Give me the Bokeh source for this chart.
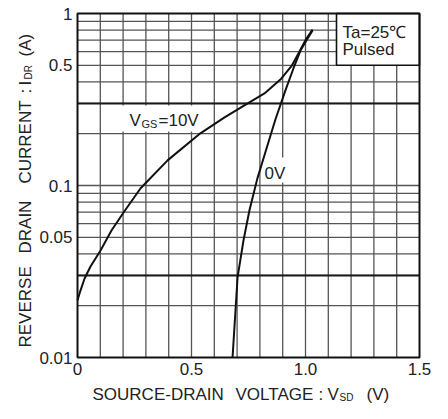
from bokeh.plotting import figure
from bokeh.models import Range1d, FixedTicker, Label, LinearAxis, LogAxis
from bokeh.embed import file_html
from bokeh.resources import INLINE

# ---- data ----
vgs10_vsd = [0.0, 0.013, 0.031, 0.057, 0.101, 0.149, 0.202, 0.276, 0.395, 0.539,
             0.645, 0.732, 0.820, 0.890, 0.940, 0.976, 1.004, 1.031]
vgs10_idr = [0.0215, 0.0245, 0.0288, 0.0338, 0.0419, 0.0547, 0.0697, 0.0961, 0.140, 0.201,
             0.249, 0.292, 0.343, 0.413, 0.497, 0.610, 0.716, 0.807]
vgs0_vsd = [0.680, 0.702, 0.728, 0.754, 0.789, 0.829, 0.868, 0.912, 0.947, 0.978, 1.004, 1.031]
vgs0_idr = [0.010, 0.0292, 0.0479, 0.0716, 0.110, 0.164, 0.242, 0.357, 0.479, 0.609, 0.697, 0.796]

x_lim = [0.0, 1.5]
y_lim = [0.01, 1.0]
x_ticks = [0.0, 0.5, 1.0, 1.5]
x_tick_labels = ["0", "0.5", "1.0", "1.5"]
y_ticks = [0.01, 0.05, 0.1, 0.5, 1.0]
y_tick_labels = ["0.01", "0.05", "0.1", "0.5", "1"]
x_grid = [round(0.1 * k, 1) for k in range(1, 15)]
y_grid = [round(m * 10.0 ** e, 4) for e in (-2, -1) for m in range(2, 10)] + [0.1]
y_grid_bold = [0.03, 0.3]

FONT = "Liberation Sans"
TXT = "#222222"
LINE = "#111111"

# pixel geometry of the data box on the canvas, used to set ranges and place texts
FL, FR, FT, FB = 77, 419, 13, 357
W, H = 432, 403


def px2x(px):
    return x_lim[0] + (px - FL) * (x_lim[1] - x_lim[0]) / (FR - FL)


def px2y(py):
    return 10 ** (-2 + (FB - py) * 2.0 / (FB - FT))


p = figure(width=W, height=H, output_backend="svg", toolbar_location=None,
           y_axis_type="log", x_axis_location=None, y_axis_location=None,
           x_range=Range1d(px2x(0), px2x(W)), y_range=Range1d(px2y(H), px2y(0)),
           min_border=0)
p.background_fill_color = "white"
p.border_fill_color = "white"
p.outline_line_color = None
p.xgrid.visible = False
p.ygrid.visible = False

xaxis = LinearAxis(fixed_location=y_lim[0], bounds=tuple(x_lim),
                   ticker=FixedTicker(ticks=x_ticks))
yaxis = LogAxis(fixed_location=x_lim[0], bounds=tuple(y_lim),
                ticker=FixedTicker(ticks=y_ticks))
xaxis.major_label_overrides = {t: s for t, s in zip(x_ticks, x_tick_labels)}
yaxis.major_label_overrides = {t: s for t, s in zip(y_ticks, y_tick_labels)}
for ax in (xaxis, yaxis):
    ax.axis_line_color = None
    ax.major_tick_line_color = None
    ax.minor_tick_line_color = None
    ax.major_tick_out = 0
    ax.major_tick_in = 0
    ax.minor_tick_out = 0
    ax.major_label_text_font = FONT
    ax.major_label_text_font_size = "17px"
    ax.major_label_text_color = TXT
    ax.major_label_standoff = 5
p.add_layout(xaxis, "below")
p.add_layout(yaxis, "left")

# grid lines inside the data box
p.segment(x0=x_grid, x1=x_grid, y0=[y_lim[0]] * len(x_grid), y1=[y_lim[1]] * len(x_grid),
          line_color="#555555", line_width=1.3)
p.segment(x0=[x_lim[0]] * len(y_grid), x1=[x_lim[1]] * len(y_grid), y0=y_grid, y1=y_grid,
          line_color="#555555", line_width=1.3)
p.segment(x0=[x_lim[0]] * len(y_grid_bold), x1=[x_lim[1]] * len(y_grid_bold),
          y0=y_grid_bold, y1=y_grid_bold, line_color="#1a1a1a", line_width=2)

# white label backgrounds
p.quad(left=[px2x(101), px2x(262), px2x(336)], right=[px2x(210), px2x(290), x_lim[1]],
       bottom=[px2y(131), px2y(182), 0.5], top=[px2y(105), px2y(157), y_lim[1]],
       fill_color="white", line_color=[None, None, LINE], line_width=1.6)

# frame
p.quad(left=[x_lim[0]], right=[x_lim[1]], bottom=[y_lim[0]], top=[y_lim[1]],
       fill_color=None, line_color=LINE, line_width=2)

# curves
p.line(vgs10_vsd, vgs10_idr, line_color=LINE, line_width=2)
p.line(vgs0_vsd, vgs0_idr, line_color=LINE, line_width=2)


def lab(px, py, text, size, angle=0, align="left"):
    p.add_layout(Label(x=px2x(px), y=px2y(py), text=text, text_font=FONT,
                       text_font_size=f"{size}px", text_color=TXT, angle=angle,
                       angle_units="deg", text_align=align, text_baseline="middle"))


# in-plot labels (positions are text centre lines)
lab(129, 120, "V", 17)
lab(141, 123, "GS", 11)
lab(158, 120, "=10V", 17)
lab(264, 172.5, "0V", 17)
lab(342, 31.5, "Ta=25\u2103", 17)
lab(342, 49, "Pulsed", 17)

# x-axis title (kept inside the canvas)
TY = 394
lab(92, TY, "SOURCE-DRAIN", 17)
lab(235, TY, "VOLTAGE", 17)
lab(318, TY, ":", 17)
lab(327, TY, "V", 17)
lab(339, TY + 2.5, "SD", 10)
lab(366, TY, "(V)", 17)

# y-axis title (rotated)
BX = 25
lab(BX, 347, "REVERSE", 17, angle=90)
lab(BX, 253, "DRAIN", 17, angle=90)
lab(BX, 183, "CURRENT", 17, angle=90)
lab(BX, 93, ":", 17, angle=90)
lab(BX, 85, "I", 17, angle=90)
lab(BX + 3, 79, "DR", 10, angle=90)
lab(BX, 56, "(A)", 17, angle=90)

open("out.html", "w").write(file_html(p, INLINE))
